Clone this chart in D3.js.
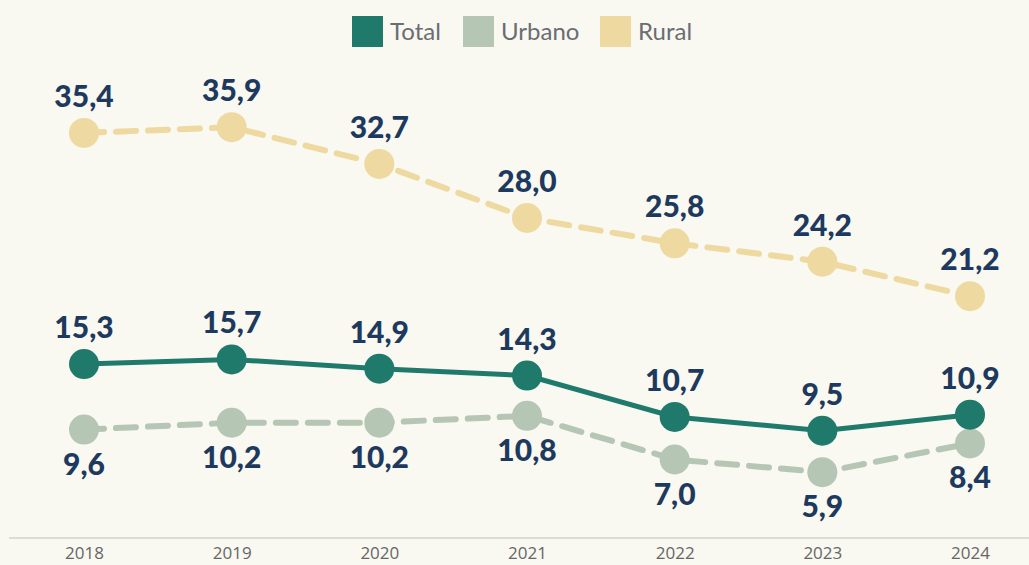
<!DOCTYPE html>
<html>
<head>
<meta charset="utf-8">
<script src="https://cdn.jsdelivr.net/npm/d3@7"></script>
<style>
  body { margin: 0; background: #f9f8f1; }
  svg { display: block; }
</style>
</head>
<body>
<div id="chart-area"></div>
<script>
const years = ["2018", "2019", "2020", "2021", "2022", "2023", "2024"]
const total = [15.3, 15.7, 14.9, 14.3, 10.7, 9.5, 10.9]
const urbano = [9.6, 10.2, 10.2, 10.8, 7.0, 5.9, 8.4]
const rural = [35.4, 35.9, 32.7, 28.0, 25.8, 24.2, 21.2]

const WIDTH = 1029
const HEIGHT = 565

const svg = d3.select("#chart-area").append("svg")
  .attr("width", WIDTH)
  .attr("height", HEIGHT)

svg.append("rect")
  .attr("width", WIDTH).attr("height", HEIGHT)
  .attr("fill", "#f9f8f1")

const x = d3.scalePoint()
  .domain(years)
  .range([84, 970])

const y = d3.scaleLinear()
  .domain([0, 40])
  .range([540, 80])

// baseline
svg.append("line")
  .attr("x1", 9).attr("x2", WIDTH)
  .attr("y1", 538).attr("y2", 538)
  .attr("stroke", "#dcdcd6")
  .attr("stroke-width", 2)

const xAxis = d3.axisBottom(x).tickSize(0).tickPadding(0)
const gx = svg.append("g")
  .attr("transform", "translate(0, 559)")
  .call(xAxis)
gx.select(".domain").remove()
gx.selectAll("text")
  .attr("y", 0)
  .attr("dy", 0)
  .attr("font-family", "'Open Sans', sans-serif")
  .attr("font-size", 17)
  .attr("fill", "#666")

const series = [
  { name: "Rural", values: rural, color: "#eed9a0", dash: "20,12", labelDy: -26 },
  { name: "Urbano", values: urbano, color: "#b5c6b4", dash: "20,12", labelDy: 45 },
  { name: "Total", values: total, color: "#1f7a6c", dash: null, labelDy: -26 }
]

const line = d3.line()
  .x((d, i) => x(years[i]))
  .y(d => y(d))

series.forEach(s => {
  const g = svg.append("g")
  g.append("path")
    .datum(s.values)
    .attr("fill", "none")
    .attr("stroke", s.color)
    .attr("stroke-width", s.dash ? 6 : 5)
    .attr("stroke-linecap", "round")
    .attr("stroke-dasharray", s.dash)
    .attr("d", line)
  g.selectAll("circle")
    .data(s.values)
    .enter().append("circle")
    .attr("cx", (d, i) => x(years[i]))
    .attr("cy", d => y(d))
    .attr("r", 15)
    .attr("fill", s.color)
})

series.forEach(s => {
  svg.append("g").selectAll("text")
    .data(s.values)
    .enter().append("text")
    .attr("x", (d, i) => x(years[i]))
    .attr("y", d => y(d) + s.labelDy)
    .attr("text-anchor", "middle")
    .attr("font-family", "Lato, sans-serif")
    .attr("font-weight", "900")
    .attr("font-size", 30)
    .attr("fill", "#1d3a5e")
    .text(d => d.toFixed(1).replace(".", ","))
})

// legend
const legendItems = [
  { name: "Total", color: "#1f7a6c" },
  { name: "Urbano", color: "#b5c6b4" },
  { name: "Rural", color: "#eed9a0" }
]
const legendX = [352, 463, 600]
const legend = svg.append("g")
legendItems.forEach((d, i) => {
  legend.append("rect")
    .attr("x", legendX[i]).attr("y", 16)
    .attr("width", 31).attr("height", 31)
    .attr("fill", d.color)
  legend.append("text")
    .attr("x", legendX[i] + 38).attr("y", 40)
    .attr("font-family", "Lato, sans-serif")
    .attr("font-size", 24)
    .attr("fill", "#6a6d72")
    .text(d.name)
})
</script>
</body>
</html>
